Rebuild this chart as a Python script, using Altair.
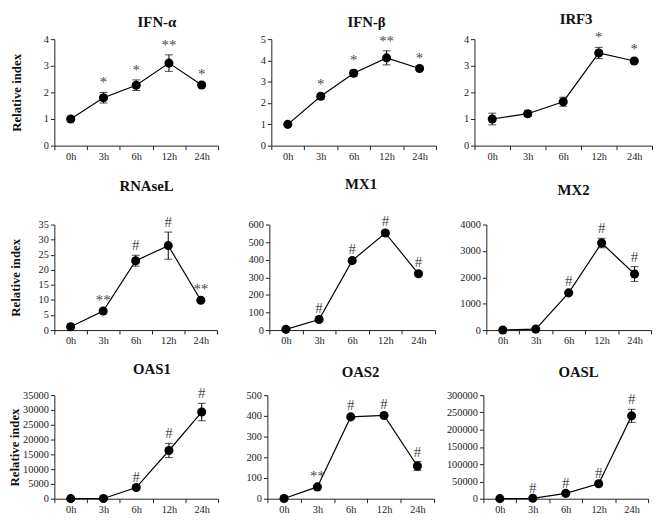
import altair as alt
import pandas as pd

TIMES = ["0h", "3h", "6h", "12h", "24h"]
GENES = ["IFN-α", "IFN-β", "IRF3", "RNAseL", "MX1", "MX2", "OAS1", "OAS2", "OASL"]

IFNA_MEAN = [1.0, 1.8, 2.27, 3.1, 2.28]
IFNA_ERR = [0.03, 0.2, 0.2, 0.31, 0.05]
IFNA_SIG = ["", "*", "*", "**", "*"]
IFNA_TICKS = [0, 1, 2, 3, 4]

IFNB_MEAN = [1.0, 2.32, 3.4, 4.12, 3.62]
IFNB_ERR = [0.03, 0.13, 0.15, 0.33, 0.05]
IFNB_SIG = ["", "*", "*", "**", "*"]
IFNB_TICKS = [0, 1, 2, 3, 4, 5]

IRF3_MEAN = [1.0, 1.2, 1.65, 3.48, 3.18]
IRF3_ERR = [0.22, 0.1, 0.17, 0.21, 0.06]
IRF3_SIG = ["", "", "", "*", "*"]
IRF3_TICKS = [0, 1, 2, 3, 4]

RNASEL_MEAN = [1.1, 6.3, 23.0, 28.0, 9.9]
RNASEL_ERR = [0.2, 0.5, 1.8, 4.5, 0.3]
RNASEL_SIG = ["", "**", "#", "#", "**"]
RNASEL_TICKS = [0, 5, 10, 15, 20, 25, 30, 35]

MX1_MEAN = [4, 60, 395, 552, 320]
MX1_ERR = [2, 8, 10, 14, 12]
MX1_SIG = ["", "#", "#", "#", "#"]
MX1_TICKS = [0, 100, 200, 300, 400, 500, 600]

MX2_MEAN = [5, 37, 1410, 3300, 2125]
MX2_ERR = [5, 20, 70, 180, 280]
MX2_SIG = ["", "", "#", "#", "#"]
MX2_TICKS = [0, 1000, 2000, 3000, 4000]

OAS1_MEAN = [30, 80, 3770, 16300, 29300]
OAS1_ERR = [10, 20, 300, 2400, 2950]
OAS1_SIG = ["", "", "#", "#", "#"]
OAS1_TICKS = [0, 5000, 10000, 15000, 20000, 25000, 30000, 35000]

OAS2_MEAN = [1, 57, 395, 402, 158]
OAS2_ERR = [1, 5, 8, 6, 22]
OAS2_SIG = ["", "**", "#", "#", "#"]
OAS2_TICKS = [0, 100, 200, 300, 400, 500]

OASL_MEAN = [200, 1200, 15500, 43500, 240000]
OASL_ERR = [100, 300, 1500, 2000, 19000]
OASL_SIG = ["", "#", "#", "#", "#"]
OASL_TICKS = [0, 50000, 100000, 150000, 200000, 250000, 300000]

SERIES = {
    "IFN-α": (IFNA_MEAN, IFNA_ERR, IFNA_SIG, IFNA_TICKS),
    "IFN-β": (IFNB_MEAN, IFNB_ERR, IFNB_SIG, IFNB_TICKS),
    "IRF3": (IRF3_MEAN, IRF3_ERR, IRF3_SIG, IRF3_TICKS),
    "RNAseL": (RNASEL_MEAN, RNASEL_ERR, RNASEL_SIG, RNASEL_TICKS),
    "MX1": (MX1_MEAN, MX1_ERR, MX1_SIG, MX1_TICKS),
    "MX2": (MX2_MEAN, MX2_ERR, MX2_SIG, MX2_TICKS),
    "OAS1": (OAS1_MEAN, OAS1_ERR, OAS1_SIG, OAS1_TICKS),
    "OAS2": (OAS2_MEAN, OAS2_ERR, OAS2_SIG, OAS2_TICKS),
    "OASL": (OASL_MEAN, OASL_ERR, OASL_SIG, OASL_TICKS),
}

# layout (style only): plot width/height, y-axis extent, y-title padding, title dx, title offset
LAYOUT = {
    "IFN-α": dict(w=166, h=108, ext=28, tp=3, dx=21, off=4),
    "IFN-β": dict(w=167, h=108, ext=45, tp=3, dx=13, off=4),
    "IRF3": dict(w=180, h=108, ext=30, tp=3, dx=13, off=4),
    "RNAseL": dict(w=165, h=107, ext=29, tp=3, dx=11, off=22),
    "MX1": dict(w=168, h=107, ext=44, tp=3, dx=9, off=22),
    "MX2": dict(w=167, h=107, ext=43, tp=3, dx=5, off=22),
    "OAS1": dict(w=166, h=105, ext=30, tp=1, dx=16, off=10),
    "OAS2": dict(w=169, h=105, ext=41, tp=3, dx=10, off=10),
    "OASL": dict(w=167, h=105, ext=41, tp=3, dx=13, off=10),
}

FONT = "Liberation Serif, Times New Roman, Times, serif"


def panel(gene, first_col):
    mean, err, sig, ticks = SERIES[gene]
    lay = LAYOUT[gene]
    df = pd.DataFrame({"time": TIMES, "mean": mean, "err": err, "sig": sig})
    df["lo"] = df["mean"] - df["err"]
    df["hi"] = df["mean"] + df["err"]

    xenc = alt.X(
        "time:N",
        sort=TIMES,
        bandPosition=0.5,
        scale=alt.Scale(type="band", paddingInner=0, paddingOuter=0),
        axis=alt.Axis(title=None, labelAngle=0, tickBand="extent", labelPadding=2),
    )
    ytitle = "Relative index" if first_col else None
    yscale = alt.Scale(domain=[0, ticks[-1]], nice=False, zero=True)
    yaxis = alt.Axis(values=ticks, format="d", minExtent=lay["ext"],
                     titlePadding=lay["tp"], grid=False)

    def Y(field):
        return alt.Y(field, scale=yscale, axis=yaxis, title=ytitle)

    base = alt.Chart(df)
    line = base.mark_line(color="black", strokeWidth=1.2).encode(x=xenc, y=Y("mean:Q"))
    bars = base.mark_rule(color="black", strokeWidth=1).encode(x=xenc, y=Y("lo:Q"), y2="hi:Q")
    cap_hi = base.mark_tick(color="black", thickness=1, size=8).encode(x=xenc, y=Y("hi:Q"))
    cap_lo = base.mark_tick(color="black", thickness=1, size=8).encode(x=xenc, y=Y("lo:Q"))
    pts = base.mark_circle(size=85, color="black", opacity=1).encode(x=xenc, y=Y("mean:Q"))
    txt = base.mark_text(font=FONT, fontSize=15, color="#4a4a4a", baseline="middle", dy=-10).encode(
        x=xenc, y=Y("hi:Q"), text="sig:N"
    )
    return alt.layer(line, bars, cap_hi, cap_lo, pts, txt).properties(
        width=lay["w"],
        height=lay["h"],
        title=alt.TitleParams(gene, dx=lay["dx"], offset=lay["off"]),
    )


rows = []
for r in range(3):
    charts = [panel(GENES[r * 3 + c], c == 0) for c in range(3)]
    rows.append(alt.hconcat(*charts, spacing=8))

chart = (
    alt.vconcat(*rows, spacing=15)
    .properties(padding=0)
    .configure_axis(
        labelFont=FONT, labelFontSize=10.5, labelColor="#222",
        domainColor="#222", tickColor="#222", tickSize=4, grid=False,
        titleFont=FONT, titleFontSize=13, titleFontWeight="bold", titleColor="#111",
    )
    .configure_title(font=FONT, fontSize=15, fontWeight="bold", color="#111", anchor="middle")
    .configure_view(stroke=None)
)

chart.save("out.html", embed_options={"renderer": "svg", "actions": False})
